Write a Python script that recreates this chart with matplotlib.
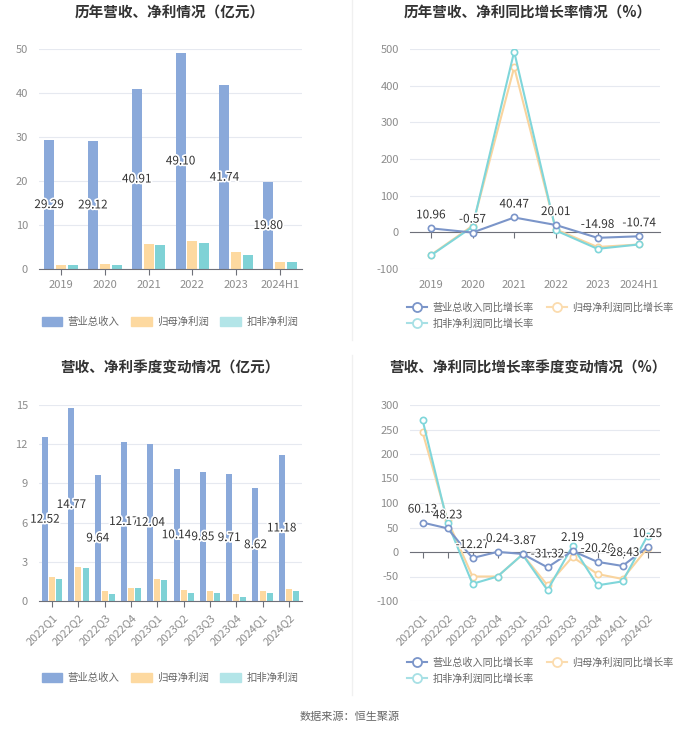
import matplotlib
matplotlib.use("Agg")
import matplotlib.pyplot as plt
import matplotlib.patheffects as pe
from matplotlib.lines import Line2D
from matplotlib.patches import Patch
import numpy as np

plt.rcParams["font.family"] = ["Noto Sans CJK SC", "DejaVu Sans"]
plt.rcParams["axes.unicode_minus"] = False

# ---- 数据 ----
anos = ["2019", "2020", "2021", "2022", "2023", "2024H1"]
receita_ano = [29.29, 29.12, 40.91, 49.10, 41.74, 19.80]
lucro_ano = [0.9, 1.1, 5.7, 6.3, 3.9, 1.7]
lucro_ajust_ano = [0.8, 1.0, 5.4, 5.8, 3.1, 1.5]

cresc_receita_ano = [10.96, -0.57, 40.47, 20.01, -14.98, -10.74]
cresc_lucro_ano = [-62, 18, 450, 8, -40, -33]
cresc_ajust_ano = [-63, 15, 493, 5, -45, -33]

trimestres = ["2022Q1", "2022Q2", "2022Q3", "2022Q4", "2023Q1",
              "2023Q2", "2023Q3", "2023Q4", "2024Q1", "2024Q2"]
receita_tri = [12.52, 14.77, 9.64, 12.17, 12.04, 10.14, 9.85, 9.71, 8.62, 11.18]
lucro_tri = [1.8, 2.6, 0.8, 1.0, 1.65, 0.85, 0.75, 0.55, 0.75, 0.95]
lucro_ajust_tri = [1.7, 2.5, 0.55, 1.0, 1.6, 0.6, 0.65, 0.3, 0.65, 0.8]

cresc_receita_tri = [60.13, 48.23, -12.27, 0.24, -3.87, -31.32, 2.19, -20.20, -28.43, 10.25]
cresc_lucro_tri = [245, 65, -50, -50, -5, -68, -10, -45, -55, 8]
cresc_ajust_tri = [270, 60, -65, -50, -5, -78, 12, -68, -60, 33]

# ---- estilo ----
C_REC = "#8aa9da"
C_LUC = "#fdd9a0"
C_AJU = "#7fd2d6"
L_REC = "#7b95c9"
L_LUC = "#f9d49e"
L_AJU = "#7fd6da"
GRID = "#e6e9f0"
EIXO = "#6e7079"
TXT = "#8c8c8c"

W, H = 700, 734
fig = plt.figure(figsize=(W / 100, H / 100), dpi=100)


def eixo_px(esq, dir_, topo, base):
    return fig.add_axes([esq / W, (H - base) / H, (dir_ - esq) / W, (base - topo) / H])


def base_estilo(ax, ylim, yticks):
    ax.set_ylim(*ylim)
    ax.set_yticks(yticks)
    for s in ["left", "right", "top"]:
        ax.spines[s].set_visible(False)
    ax.grid(axis="y", color=GRID, linewidth=0.8)
    ax.set_axisbelow(True)
    ax.tick_params(axis="y", length=0, labelcolor=TXT, labelsize=8, pad=8)


def barras(ax, cats, rec, luc, aju, ylim, yticks, rot):
    x = np.arange(len(cats))
    ax.bar(x - 0.27, rec, 0.23, color=C_REC, zorder=2)
    ax.bar(x, luc, 0.23, color=C_LUC, zorder=2)
    ax.bar(x + 0.27, aju, 0.23, color=C_AJU, zorder=2)
    for xi, v in zip(x, rec):
        ax.text(xi - 0.27, v / 2, f"{v:.2f}", ha="center", va="center", fontsize=8.5,
                color="#333333", zorder=3,
                path_effects=[pe.withStroke(linewidth=2.5, foreground="white")])
    base_estilo(ax, ylim, yticks)
    ax.set_xlim(-0.5, len(cats) - 0.5)
    ax.spines["bottom"].set_color(EIXO)
    ax.set_xticks(x)
    if rot:
        ax.set_xticklabels(cats, rotation=45, ha="right", rotation_mode="anchor")
    else:
        ax.set_xticklabels(cats)
    ax.tick_params(axis="x", length=4, color=EIXO, labelcolor=TXT, labelsize=8, pad=4)


def linhas(ax, cats, rec, luc, aju, ylim, yticks, rot):
    x = np.arange(len(cats))
    mk = dict(marker="o", markersize=4.5, markerfacecolor="white", markeredgewidth=1.2)
    ax.plot(x, luc, color=L_LUC, linewidth=1.5, markeredgecolor=L_LUC, zorder=3, **mk)
    ax.plot(x, aju, color=L_AJU, linewidth=1.5, markeredgecolor=L_AJU, zorder=4, **mk)
    ax.plot(x, rec, color=L_REC, linewidth=1.5, markeredgecolor=L_REC, zorder=5, **mk)
    for xi, v in zip(x, rec):
        ax.annotate(f"{v:.2f}", (xi, v), xytext=(0, 5), textcoords="offset points",
                    ha="center", va="bottom", fontsize=8.5, color="#333333", zorder=6,
                    path_effects=[pe.withStroke(linewidth=2, foreground="white")])
    base_estilo(ax, ylim, yticks)
    ax.set_xlim(-0.5, len(cats) - 0.5)
    ax.spines["bottom"].set_position(("data", 0))
    ax.spines["bottom"].set_color(EIXO)
    ax.set_xticks(x)
    ax.tick_params(axis="x", length=4, color=EIXO, labelbottom=False)
    sec = ax.secondary_xaxis("bottom")
    sec.spines["bottom"].set_visible(False)
    sec.set_xticks(x)
    if rot:
        sec.set_xticklabels(cats, rotation=45, ha="right", rotation_mode="anchor")
    else:
        sec.set_xticklabels(cats)
    sec.tick_params(length=0, labelcolor=TXT, labelsize=8, pad=8)


def legenda_barras(y):
    hs = [Patch(color=C_REC), Patch(color=C_LUC), Patch(color="#b3e5e8")]
    fig.legend(hs, ["营业总收入", "归母净利润", "扣非净利润"], loc="center",
               bbox_to_anchor=(170 / W, 1 - y / H), ncol=3, frameon=False,
               fontsize=7.5, labelcolor="#666666", handlelength=2.0, handleheight=1.0,
               columnspacing=1.1, handletextpad=0.5)


def legenda_linhas(y):
    def h(c):
        return Line2D([], [], color=c, linewidth=1.5, marker="o", markersize=6.5,
                      markerfacecolor="white", markeredgecolor=c, markeredgewidth=1.3)
    hs = [h(L_REC), h("#a7e0e5"), h("#fbdcaf")]
    labs = ["营业总收入同比增长率", "扣非净利润同比增长率", "归母净利润同比增长率"]
    fig.legend(hs, labs, loc="upper left", bbox_to_anchor=(398 / W, 1 - y / H), ncol=2,
               frameon=False, fontsize=7.3, labelcolor="#666666", handlelength=2.0,
               columnspacing=1.3, handletextpad=0.5, labelspacing=0.6)


# ---- 年度 ----
ax1 = eixo_px(39, 302, 49, 269)
barras(ax1, anos, receita_ano, lucro_ano, lucro_ajust_ano, (0, 50), range(0, 51, 10), False)
fig.text(170 / W, 1 - 13 / H, "历年营收、净利情况（亿元）", ha="center", va="center",
         fontsize=10.5, fontweight="bold", color="#333333")
legenda_barras(322)

ax2 = eixo_px(410, 660, 49, 269)
linhas(ax2, anos, cresc_receita_ano, cresc_lucro_ano, cresc_ajust_ano,
       (-100, 500), range(-100, 501, 100), False)
fig.text(528 / W, 1 - 13 / H, "历年营收、净利同比增长率情况（%）", ha="center", va="center",
         fontsize=10.5, fontweight="bold", color="#333333")
legenda_linhas(293)

# ---- 季度 ----
ax3 = eixo_px(39, 302, 405, 601)
barras(ax3, trimestres, receita_tri, lucro_tri, lucro_ajust_tri, (0, 15), range(0, 16, 3), True)
fig.text(170 / W, 1 - 368 / H, "营收、净利季度变动情况（亿元）", ha="center", va="center",
         fontsize=10.5, fontweight="bold", color="#333333")
legenda_barras(678)

ax4 = eixo_px(410, 660, 405, 601)
linhas(ax4, trimestres, cresc_receita_tri, cresc_lucro_tri, cresc_ajust_tri,
       (-100, 300), range(-100, 301, 50), True)
fig.text(528 / W, 1 - 368 / H, "营收、净利同比增长率季度变动情况（%）", ha="center", va="center",
         fontsize=10.5, fontweight="bold", color="#333333")
legenda_linhas(648)

# separadores
fig.add_artist(Line2D([352 / W, 352 / W], [1 - 0 / H, 1 - 340 / H], color="#f0f0f0", linewidth=1))
fig.add_artist(Line2D([352 / W, 352 / W], [1 - 355 / H, 1 - 695 / H], color="#f0f0f0", linewidth=1))

fig.text(350 / W, 1 - 717 / H, "数据来源：恒生聚源", ha="center", va="center",
         fontsize=8, color="#666666")

fig.savefig("out.png", dpi=100, facecolor="white")
